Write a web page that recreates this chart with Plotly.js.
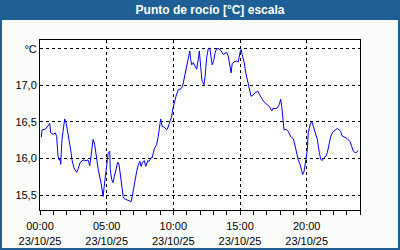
<!DOCTYPE html>
<html>
<head>
<meta charset="utf-8">
<script src="https://cdn.plot.ly/plotly-3.0.1.min.js"></script>
<style>
html,body{margin:0;padding:0;background:#fff;}
#chart{width:400px;height:250px;}
</style>
</head>
<body>
<div id="chart"></div>
<script>
const day = "2025-10-23";
const times = ["00:06","00:09","00:24","00:36","00:44","00:48","00:59","01:09","01:15","01:21","01:26","01:30","01:33","01:39","01:48","01:51","01:58","02:09","02:18","02:24","02:33","02:45","02:51","03:00","03:14","03:28","03:36","03:44","03:51","03:59","04:06","04:13","04:22","04:35","04:40","04:44","04:49","04:56","05:00","05:07","05:14","05:16","05:23","05:29","05:34","05:41","05:50","05:56","06:00","06:08","06:15","06:26","06:37","06:50","06:55","07:04","07:15","07:22","07:29","07:35","07:40","07:49","07:56","08:05","08:11","08:20","08:25","08:34","08:38","08:45","08:52","08:57","09:03","09:09","09:18","09:30","09:37","09:45","09:53","09:57","10:03","10:12","10:22","10:33","10:42","10:48","10:53","11:00","11:07","11:14","11:18","11:23","11:30","11:38","11:45","11:52","11:57","12:03","12:09","12:18","12:23","12:30","12:37","12:44","12:50","12:55","13:02","13:08","13:15","13:26","13:35","13:45","13:53","14:00","14:07","14:15","14:20","14:25","14:34","14:45","14:52","15:00","15:05","15:10","15:19","15:26","15:35","15:41","15:50","16:00","16:08","16:20","16:30","16:40","16:49","17:00","17:12","17:23","17:30","17:38","17:48","17:57","18:03","18:08","18:12","18:18","18:27","18:37","18:48","19:00","19:08","19:15","19:22","19:30","19:38","19:42","19:48","19:54","20:00","20:03","20:07","20:15","20:23","20:30","20:38","20:48","20:57","21:03","21:09","21:18","21:27","21:33","21:42","21:48","21:57","22:08","22:18","22:27","22:33","22:39","22:53","23:03","23:15","23:23","23:30","23:38","23:45","23:51"];
const dewPoint = [16.29,16.39,16.40,16.44,16.48,16.35,16.33,16.35,16.30,16.03,15.98,15.99,15.92,16.26,16.49,16.54,16.48,16.30,16.12,15.98,15.87,15.81,15.85,15.94,15.98,15.97,15.98,15.90,16.08,16.26,16.19,16.03,15.85,15.66,15.53,15.48,15.62,15.82,15.96,16.08,16.10,15.85,15.71,15.67,15.75,15.85,15.95,15.91,15.80,15.62,15.46,15.44,15.43,15.41,15.48,15.66,15.82,15.91,15.96,15.89,15.94,15.97,15.89,15.97,15.96,16.01,16.01,16.13,16.16,16.19,16.30,16.42,16.54,16.44,16.43,16.39,16.43,16.51,16.58,16.67,16.76,16.85,16.94,16.95,16.99,17.08,17.17,17.26,17.38,17.47,17.35,17.28,17.31,17.26,17.22,17.35,17.47,17.26,17.06,17.01,17.12,17.38,17.50,17.51,17.35,17.28,17.34,17.45,17.50,17.50,17.47,17.42,17.44,17.45,17.40,17.24,17.17,17.30,17.32,17.33,17.32,17.45,17.49,17.42,17.31,17.17,17.03,16.94,16.85,16.87,16.90,16.92,16.86,16.81,16.77,16.74,16.71,16.65,16.69,16.68,16.69,16.74,16.81,16.71,16.55,16.39,16.40,16.37,16.30,16.27,16.17,16.05,15.98,15.92,15.83,15.78,15.82,15.94,16.08,16.12,16.35,16.46,16.51,16.44,16.35,16.26,16.08,15.99,15.97,16.01,16.03,16.08,16.21,16.30,16.36,16.38,16.41,16.39,16.37,16.31,16.29,16.27,16.23,16.17,16.10,16.08,16.08,16.11];
const xTickTimes = ["00:00","05:00","10:00","15:00","20:00"];
const xTickLabels = ["00:00<br>23/10/25","05:00<br>23/10/25","10:00<br>23/10/25","15:00<br>23/10/25","20:00<br>23/10/25"];
const yTickVals = [15.5,16.0,16.5,17.0,17.5];
const yTickLabels = ["15,5","16,0","16,5","17,0","°C"];
const titleText = "Punto de rocío [°C] escala";

const blue = "#1e5f96";
const W = 320, H = 170, L = 40, R = 40, T = 40, B = 40;

const trace = {
  x: times.map(t => day + " " + t),
  y: dewPoint,
  type: "scatter",
  mode: "lines",
  line: {color: "#0000ff", width: 1},
  hoverinfo: "skip"
};

const layout = {
  width: 400, height: 250,
  margin: {l: L, r: R, t: T, b: B, pad: 0},
  paper_bgcolor: "#fbfdfb",
  plot_bgcolor: "#ffffff",
  showlegend: false,
  font: {family: "Liberation Sans, Arial, sans-serif", size: 11, color: "#000"},
  title: {
    text: "<b>" + titleText + "</b>",
    font: {family: "Liberation Sans, Arial, sans-serif", size: 12, color: "#ffffff"},
    x: 210/400, xanchor: "center", xref: "container",
    y: 1 - 10/250, yanchor: "middle", yref: "container"
  },
  xaxis: {
    type: "date",
    range: [day + " 00:00", "2025-10-24 00:00"],
    tickvals: xTickTimes.map(t => day + " " + t),
    ticktext: xTickLabels,
    ticks: "outside", ticklen: 4, tickcolor: "#000", tickwidth: 1,
    ticklabelstandoff: 2,
    minor: {dtick: 3600000, ticks: "outside", ticklen: 4, tickcolor: "#000", showgrid: false},
    showgrid: true, gridcolor: "#000", gridwidth: 1, griddash: "3px,3px",
    showline: true, linecolor: "#000", linewidth: 1, mirror: true,
    zeroline: false, fixedrange: true,
    tickfont: {size: 11, color: "#000"}
  },
  yaxis: {
    range: [15.295, 17.62],
    tickvals: yTickVals,
    ticktext: yTickLabels,
    ticks: "",
    showgrid: true, gridcolor: "#000", gridwidth: 1, griddash: "3px,3px",
    showline: true, linecolor: "#000", linewidth: 1, mirror: true,
    zeroline: false, fixedrange: true,
    tickfont: {size: 11, color: "#000"}
  },
  shapes: [
    {type: "rect", xref: "paper", yref: "paper", layer: "below",
     x0: -L/W, x1: 1 + R/W, y0: 1 + (T-20)/H, y1: 1 + T/H,
     fillcolor: blue, line: {width: 0}},
    {type: "rect", xref: "paper", yref: "paper", layer: "above",
     x0: -L/W, x1: 1 + R/W, y0: -B/H, y1: 1 + T/H,
     fillcolor: "rgba(0,0,0,0)", line: {color: blue, width: 4}}
  ]
};

Plotly.newPlot("chart", [trace], layout, {displayModeBar: false, staticPlot: true});
</script>
</body>
</html>
